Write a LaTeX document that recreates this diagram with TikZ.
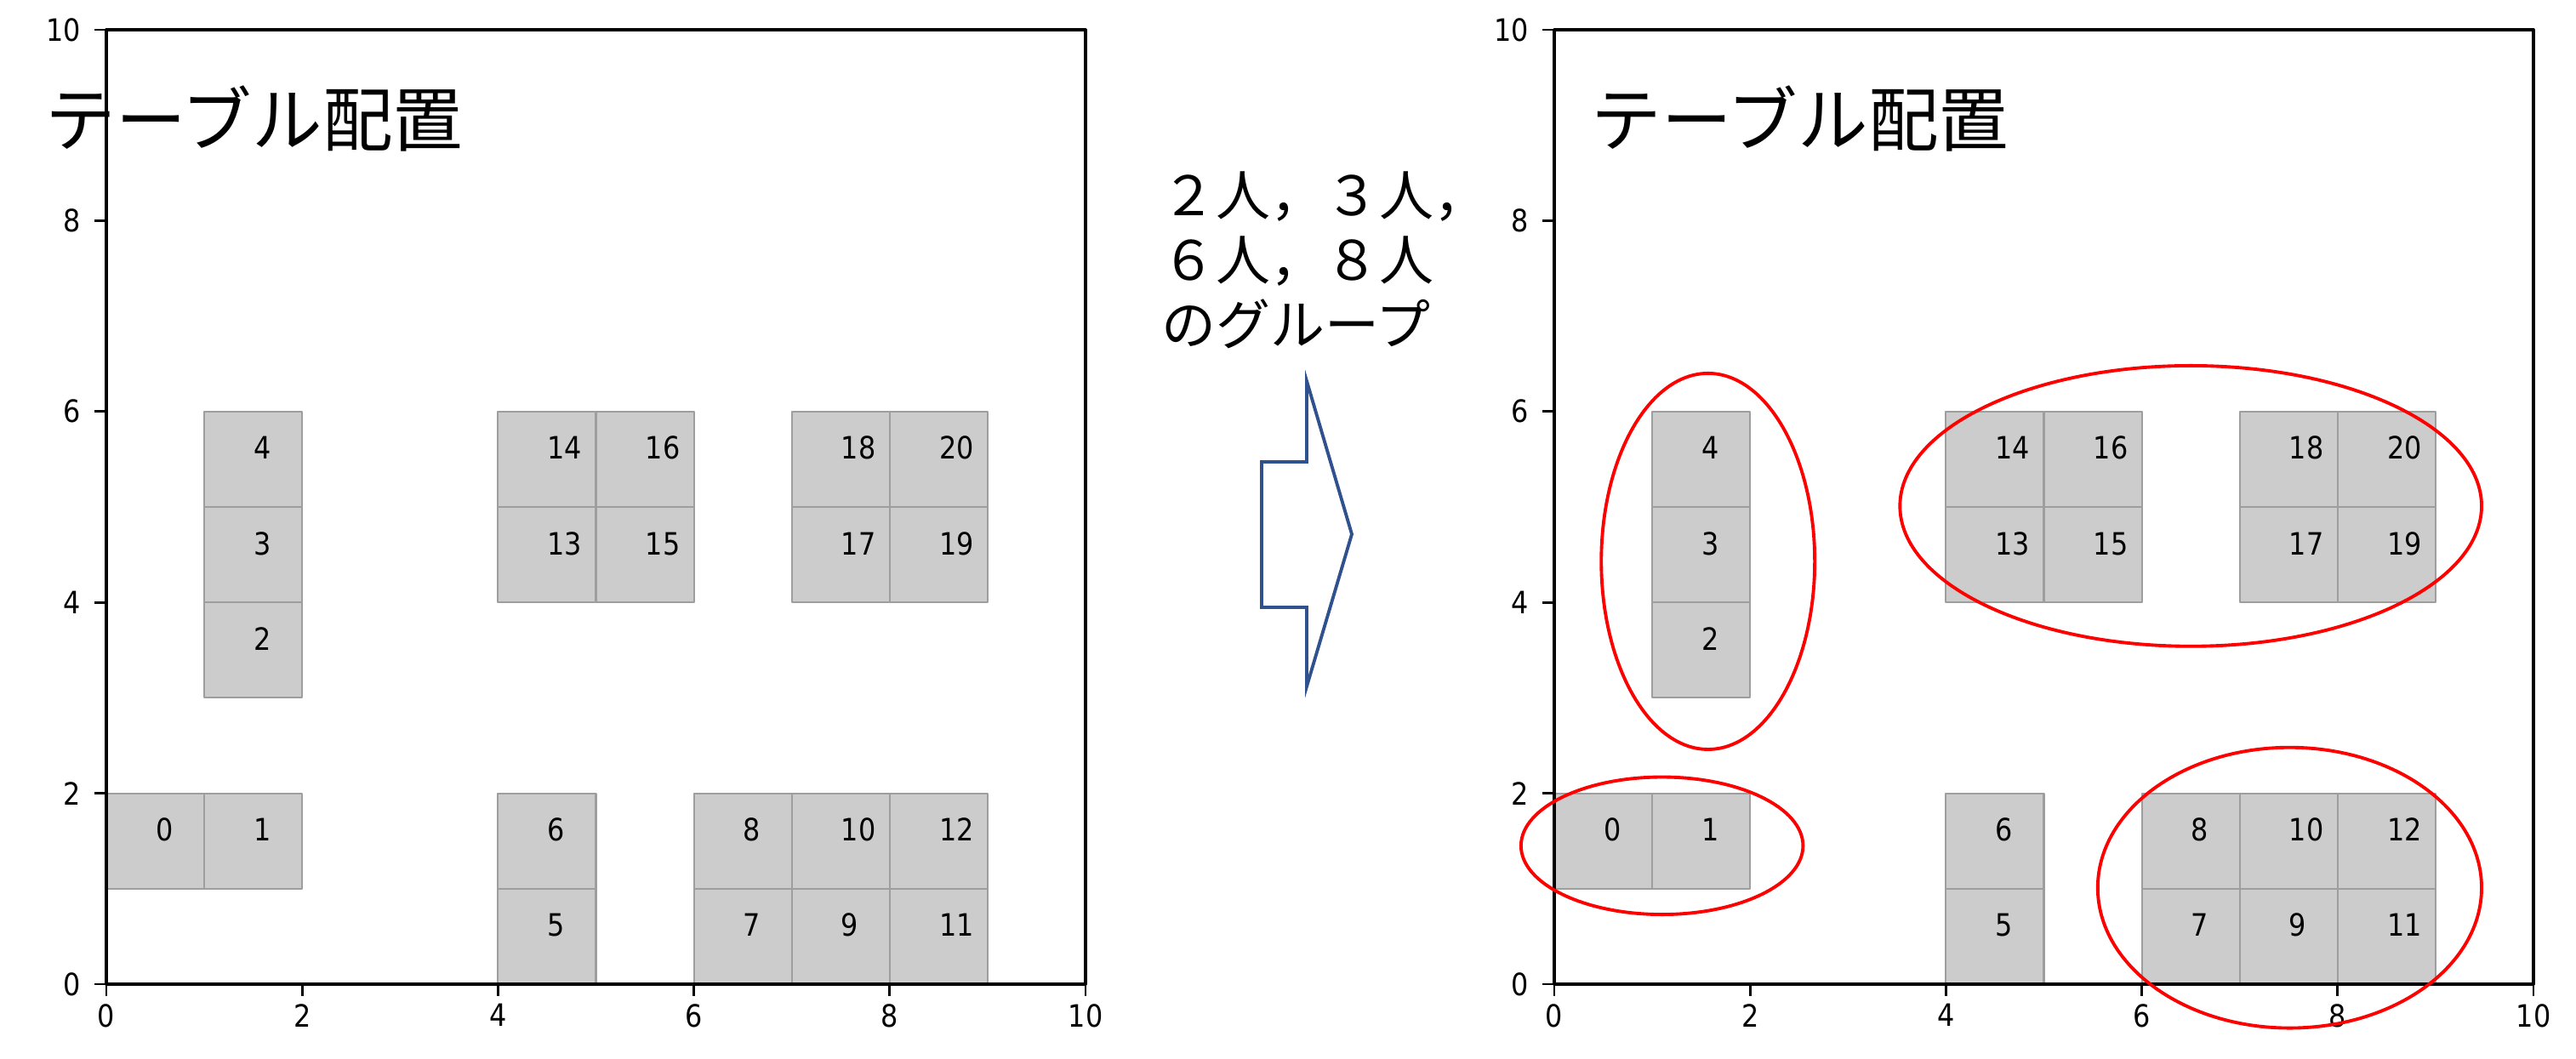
\documentclass[tikz,border=0pt]{standalone}
\usepackage{fontspec}
\newfontfamily\jpfont{Noto Sans CJK JP}
\newfontfamily\tickfont[FakeStretch=0.88]{DejaVu Sans}
\definecolor{tablegray}{RGB}{204,204,204}
\definecolor{tableedge}{RGB}{158,158,158}
\definecolor{arrowblue}{RGB}{47,82,143}
\begin{document}
\begin{tikzpicture}[line join=round,
tablebox/.style={fill=tablegray,draw=tableedge,line width=0.6pt},
tablenum/.style={anchor=base west,inner sep=0pt,font=\tickfont\fontsize{10.3}{12}\selectfont},
ticklabel/.style={inner sep=0pt,font=\tickfont\fontsize{10.3}{12}\selectfont},
plottitle/.style={anchor=west,inner sep=0pt,font=\jpfont\fontsize{23.5}{27}\selectfont},
groupring/.style={draw=red,line width=1.1pt}]
\useasboundingbox (0,0) rectangle (30.28,12.45);
% both plots: tables, frame, ticks
\foreach \side/\ox in {L/1.25,R/18.27}{
\begin{scope}[shift={(\ox cm,0.88cm)},x=1.151cm,y=1.122cm]
\foreach \n/\x/\y in {0/0/1,1/1/1,2/1/3,3/1/4,4/1/5,5/4/0,6/4/1,7/6/0,8/6/1,9/7/0,10/7/1,
11/8/0,12/8/1,13/4/4,14/4/5,15/5/4,16/5/5,17/7/4,18/7/5,19/8/4,20/8/5}{
\draw[tablebox] (\x,\y) rectangle ++(1,1);
\node[tablenum] (\side\n) at (\x+0.5,\y+0.5) {\n};
}
\draw[line width=0.9pt] (0,0) rectangle (10,10);
\foreach \t in {0,2,...,10}{
\draw[line width=0.8pt] (\t,0)--++(0,-0.14cm)node[ticklabel,below=0.08cm] (\side x\t) {\t};
\draw[line width=0.8pt] (0,\t)--++(-0.14cm,0)node[ticklabel,left=0.15cm] (\side y\t) {\t};
}
\end{scope}
}
\path
(0.53,11.06)node[plottitle] (titleL) {テーブル配置}
(18.70,11.06)node[plottitle] (titleR) {テーブル配置}
(13.65,9.39)node[anchor=west,inner sep=0pt,align=left,font=\jpfont\fontsize{18.2}{21.6}\selectfont] (groups) {２人，３人，\\６人，８人\\のグループ}
;
% block arrow
\draw[arrowblue,line width=1.1pt,line join=miter]
(14.83,7.02)--(15.36,7.02)--(15.36,7.97)--(15.89,6.17)--(15.36,4.38)--(15.36,5.31)--(14.83,5.31)--cycle;
% groups on the right plot
\begin{scope}[shift={(18.27cm,0.88cm)},x=1.151cm,y=1.122cm]
\draw[groupring] (1.1,1.45) ellipse [x radius=1.44,y radius=0.72];
\draw[groupring] (1.57,4.43) ellipse [x radius=1.09,y radius=1.97];
\draw[groupring] (6.5,5.01) ellipse [x radius=2.97,y radius=1.47];
\draw[groupring] (7.51,1.01) ellipse [x radius=1.96,y radius=1.47];
\end{scope}
\end{tikzpicture}
\end{document}
